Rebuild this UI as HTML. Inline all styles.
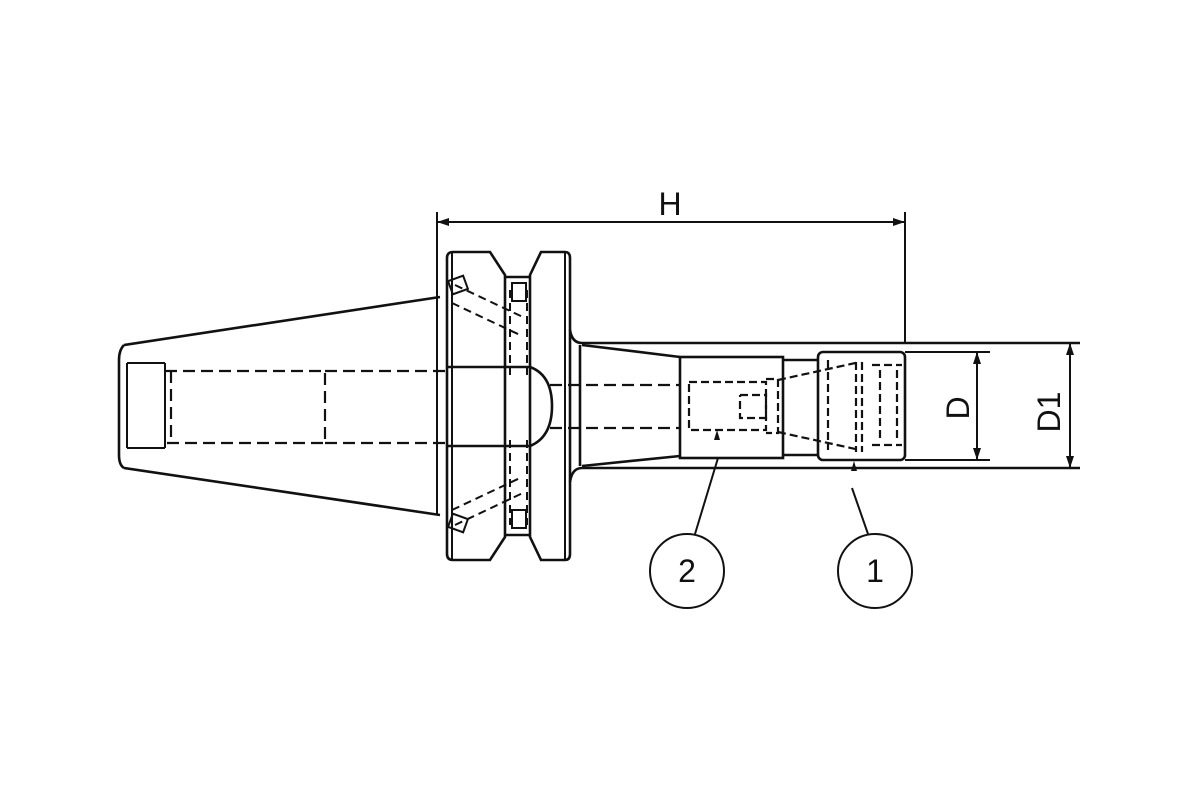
<!DOCTYPE html>
<html><head><meta charset="utf-8"><style>body{margin:0;background:#fff}svg{display:block}</style></head><body>
<svg width="1200" height="800" viewBox="0 0 1200 800" xmlns="http://www.w3.org/2000/svg" fill="none" stroke="#111" stroke-width="2.6" font-family="Liberation Sans, sans-serif">
<!-- taper -->
<path d="M124,345 L440,297 M124,468 L440,515 M124,345 Q119,350 119,360 L119,455 Q119,465 124,468"/>
<path d="M127,363 L127,448 M127,363 L165,363 M127,448 L165,448 M165,363 L165,448" stroke-width="2"/>
<g stroke-dasharray="12,6" stroke-width="2.2">
<path d="M165,371 L325,371 L325,443 L165,443 M171,371 L171,443"/>
<path d="M325,371 L447,371 M325,443 L447,443"/>
<path d="M550,385 L680,385 M550,428 L680,428"/>
</g>
<line x1="437" y1="212" x2="437" y2="515" stroke-width="2"/>
<!-- left flange -->
<path d="M447,258 Q447,252 453,252 L490,252 L505,275 L505,537 L490,560 L453,560 Q447,560 447,554 Z"/>
<line x1="452" y1="252" x2="452" y2="560" stroke-width="2"/>
<path d="M505,277 L530,277 M505,535 L530,535"/>
<!-- right flange -->
<path d="M541,252 L565,252 Q570,252 570,258 L570,554 Q570,560 565,560 L541,560 L530,537 L530,275 Z"/>
<line x1="565" y1="252" x2="565" y2="560" stroke-width="2"/>
<!-- bore -->
<path d="M447,367 L530,367 Q552,375 552,406 Q552,437 530,446 L447,446"/>
<g stroke-dasharray="8,5" stroke-width="2">
<path d="M510,290 L510,375 M527,290 L527,375 M510,440 L510,525 M527,440 L527,525"/>
<path d="M455,285 L525,318 M452,303 L520,335 M455,525 L525,492 M452,510 L520,478"/>
</g>
<rect x="512" y="283" width="14" height="18" stroke-width="2"/>
<rect x="512" y="510" width="14" height="18" stroke-width="2"/>
<rect x="450" y="278" width="16" height="14" transform="rotate(-20 458 285)" stroke-width="2"/>
<rect x="450" y="516" width="16" height="14" transform="rotate(20 458 523)" stroke-width="2"/>
<!-- shank -->
<path d="M570,330 Q572,343 582,343 L1080,343 M570,482 Q572,468 582,468 L1080,468"/>
<path d="M580,345 L580,466"/>
<path d="M582,345 L680,357 M582,466 L680,456"/>
<rect x="680" y="357" width="103" height="101"/>
<path d="M783,360 L818,360 M783,455 L818,455"/>
<rect x="818" y="352" width="87" height="108" rx="5"/>
<g stroke-dasharray="8,4" stroke-width="2.2">
<rect x="689" y="382" width="77" height="48"/>
<path d="M766,379 L778,379 L778,433 L766,433 M740,395 L766,395 L766,418 L740,418 L740,395"/>
<path d="M778,380 L860,362 M778,432 L860,450 M828,360 L828,450 M856,362 L856,452 M862,362 L862,452"/>
<path d="M872,365 L902,365 M872,445 L902,445 M880,370 L880,440 M897,370 L897,440"/>
</g>
<path d="M714,440 L717,430 L720,440 Z M851,471 L854,461 L857,471 Z" fill="#111" stroke="none"/>
<!-- dimensions -->
<path d="M905,212 L905,343 M437,222 L905,222" stroke-width="2"/>
<path d="M437,222 L449,218 L449,226 Z M905,222 L893,218 L893,226 Z" fill="#111" stroke="none"/>
<path d="M905,352 L990,352 M905,460 L990,460 M977,352 L977,460" stroke-width="2"/>
<path d="M977,352 L973,364 L981,364 Z M977,460 L973,448 L981,448 Z" fill="#111" stroke="none"/>
<path d="M1070,343 L1070,468" stroke-width="2"/>
<path d="M1070,343 L1066,355 L1074,355 Z M1070,468 L1066,456 L1074,456 Z" fill="#111" stroke="none"/>
<g fill="#111" stroke="none" font-size="32">
<text x="670" y="215" text-anchor="middle">H</text>
<text transform="translate(969,408) rotate(-90)" text-anchor="middle">D</text>
<text transform="translate(1060,412) rotate(-90)" text-anchor="middle">D1</text>
<text x="687" y="582" text-anchor="middle">2</text>
<text x="875" y="582" text-anchor="middle">1</text>
</g>
<circle cx="687" cy="571" r="37" stroke-width="2"/>
<circle cx="875" cy="571" r="37" stroke-width="2"/>
<path d="M695,534 L718,458 M868,534 L852,488" stroke-width="2"/>
</svg>
</body></html>
